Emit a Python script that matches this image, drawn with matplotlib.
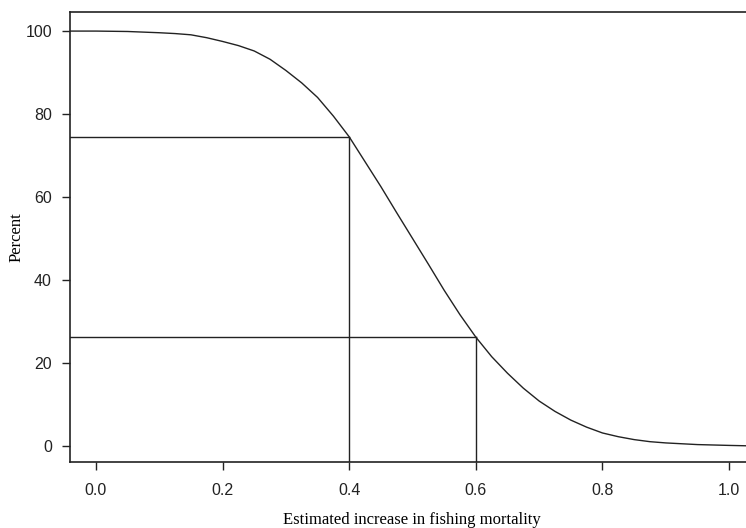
import matplotlib
matplotlib.use("Agg")
import matplotlib.pyplot as plt

# curve (percent vs increase in F)
f_incr = [-0.04, 0.0, 0.05, 0.10, 0.125, 0.15, 0.175, 0.20, 0.225, 0.25,
          0.275, 0.30, 0.325, 0.35, 0.375, 0.40, 0.425, 0.45, 0.475, 0.50,
          0.525, 0.55, 0.575, 0.60, 0.625, 0.65, 0.675, 0.70, 0.725, 0.75,
          0.775, 0.80, 0.825, 0.85, 0.875, 0.90, 0.95, 1.00, 1.03]
percent = [100.0, 100.0, 99.9, 99.6, 99.4, 99.1, 98.4, 97.5, 96.5, 95.2,
           93.2, 90.5, 87.5, 84.0, 79.5, 74.5, 68.5, 62.5, 56.2, 50.0,
           43.8, 37.5, 31.6, 26.2, 21.5, 17.5, 13.9, 10.8, 8.3, 6.2,
           4.5, 3.1, 2.2, 1.5, 1.0, 0.7, 0.3, 0.1, 0.0]

# marked points (x, percent)
marks_x = [0.4, 0.6]
marks_y = [74.5, 26.2]

xticks = [0.0, 0.2, 0.4, 0.6, 0.8, 1.0]
yticks = [0, 20, 40, 60, 80, 100]

fig = plt.figure(figsize=(7.46, 5.28), dpi=100)
ax = fig.add_axes([70 / 746, 1 - 462 / 528, 680 / 746, 450 / 528])

col = "#222222"
ax.plot(f_incr, percent, color=col, lw=1.0)
for mx, my in zip(marks_x, marks_y):
    ax.plot([-0.041, mx], [my, my], color=col, lw=1.0)
    ax.plot([mx, mx], [-3.9, my], color=col, lw=1.0)

ax.set_xlim(-0.041, 1.033)
ax.set_ylim(-3.9, 104.6)
ax.set_xticks(xticks)
ax.set_xticklabels([f"{t:.1f}" for t in xticks])
ax.set_yticks(yticks)
ax.spines["right"].set_visible(False)
for s in ("left", "bottom", "top"):
    ax.spines[s].set_linewidth(1.2)
    ax.spines[s].set_color(col)
ax.tick_params(direction="out", length=6, width=1.0, colors=col,
               labelsize=11.5)
ax.tick_params(axis="x", pad=9)
ax.tick_params(axis="y", pad=7)
for lab in ax.get_xticklabels() + ax.get_yticklabels():
    lab.set_family(["Liberation Sans", "DejaVu Sans"])

serif = ["Liberation Serif", "DejaVu Serif"]
ax.set_xlabel("Estimated increase in fishing mortality", family=serif,
              fontsize=12)
ax.xaxis.set_label_coords(0.503, -0.11)
ax.set_ylabel("Percent", family=serif, fontsize=12, va="center")
ax.yaxis.set_label_coords(-0.078, 0.5)

fig.savefig("out.png", dpi=100)
